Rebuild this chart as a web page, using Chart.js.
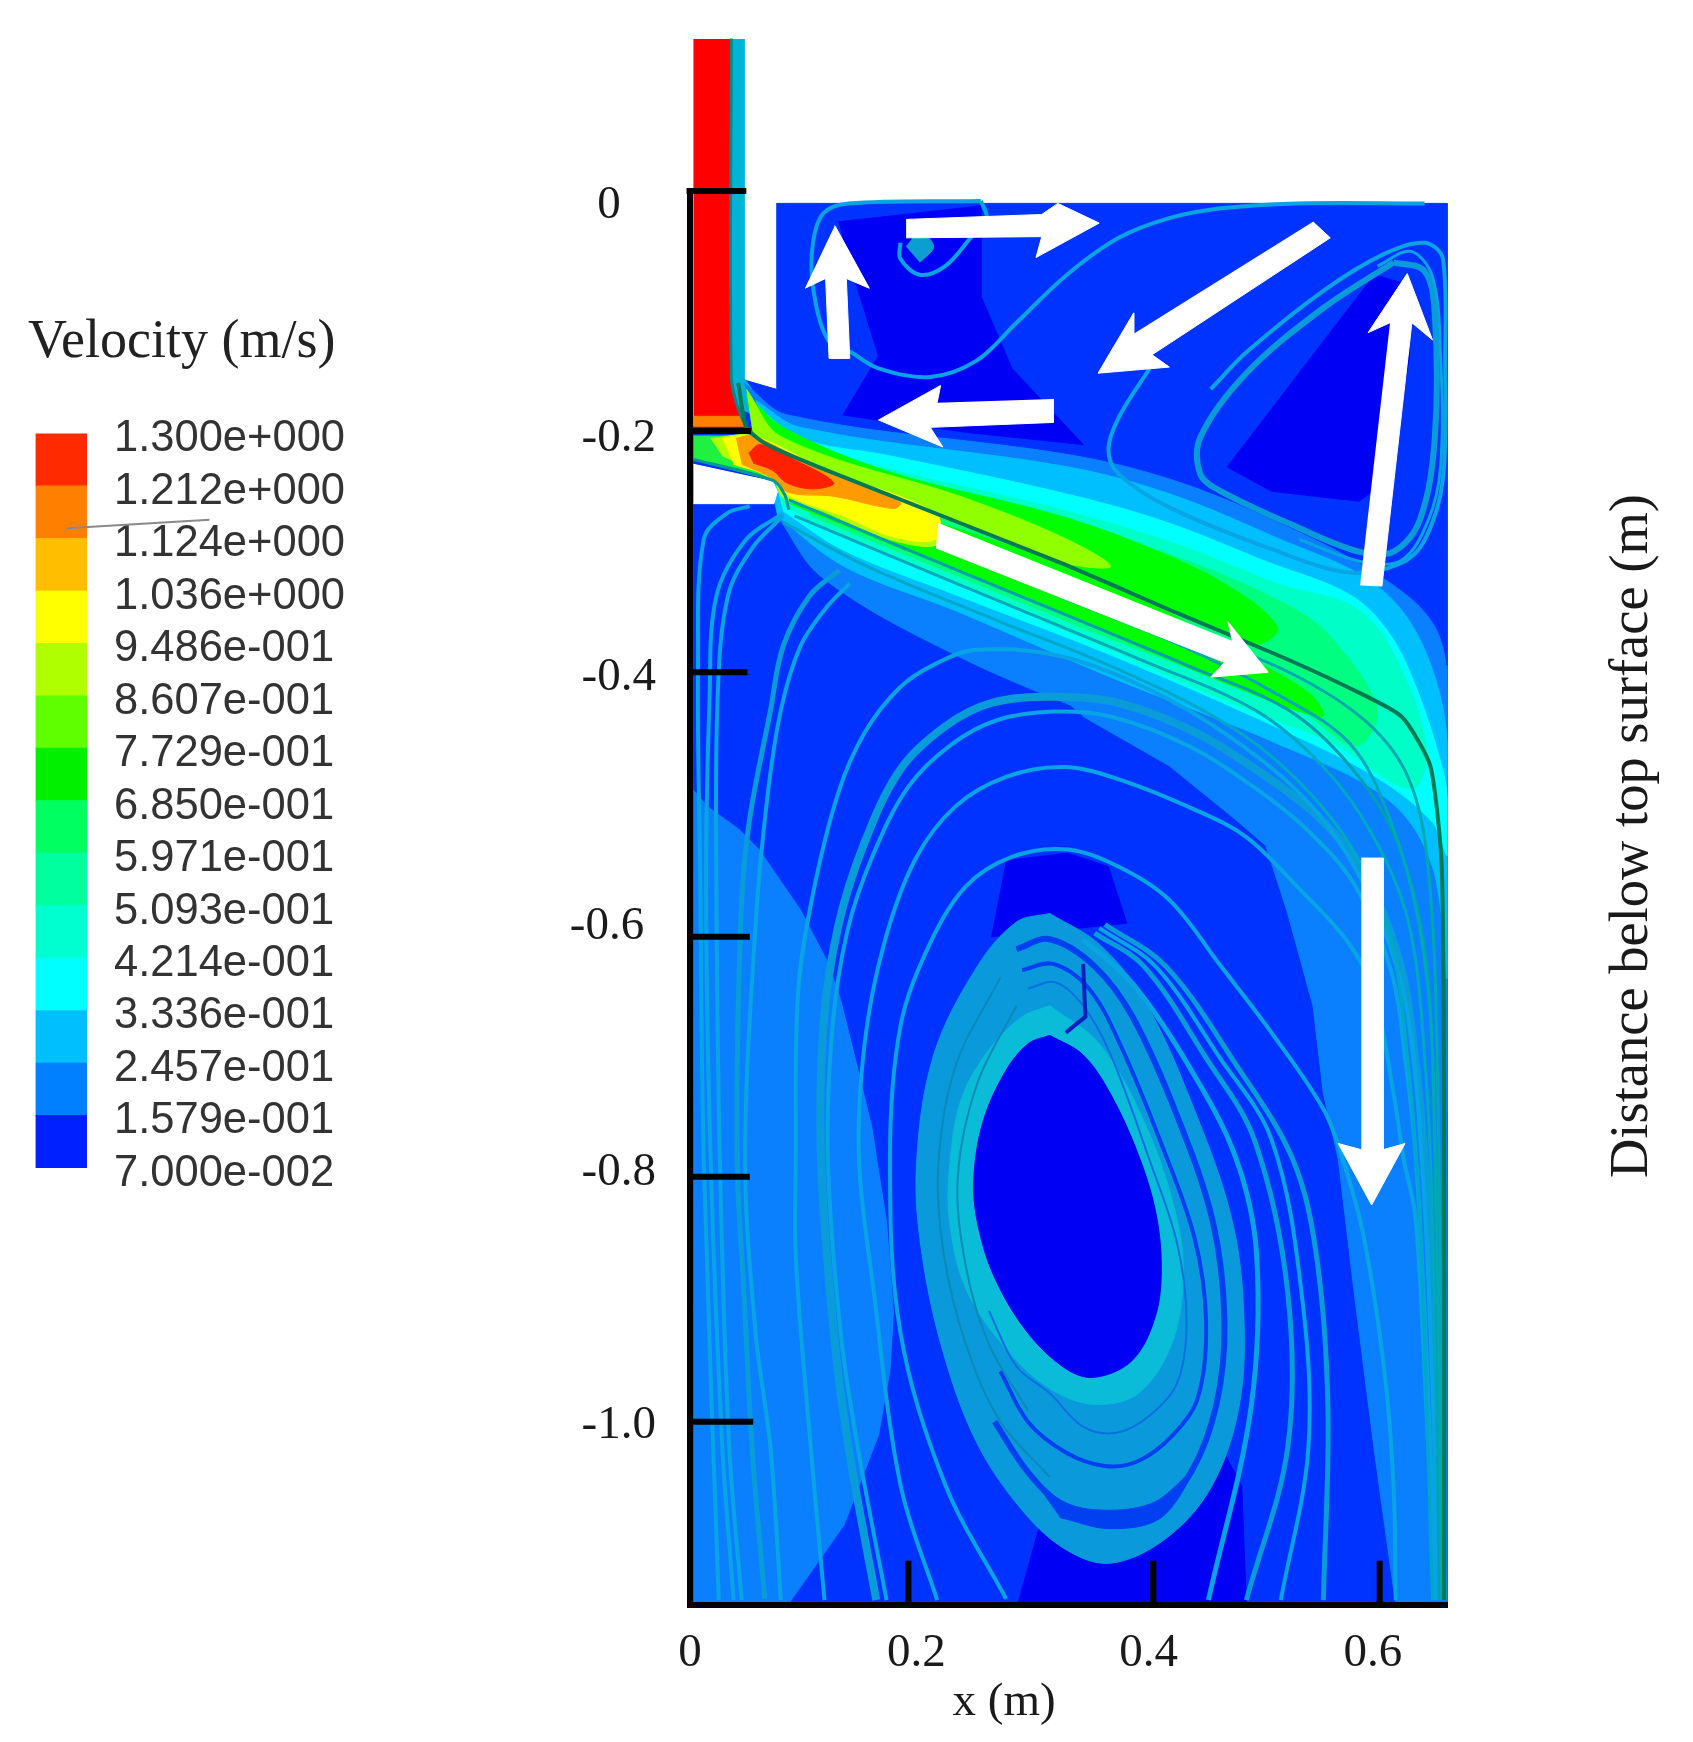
<!DOCTYPE html>
<html>
<head>
<meta charset="utf-8">
<title>Velocity field</title>
<script src="https://cdn.jsdelivr.net/npm/chart.js@4/dist/chart.umd.min.js"></script>
<style>
html,body{margin:0;padding:0;background:#fff;}
canvas{position:absolute;display:block;}
</style>
</head>
<body>
<canvas id="legendBar" width="400" height="911" style="left:28px;top:310px"></canvas>
<canvas id="field" width="1693" height="1742" style="left:0;top:0"></canvas>
<script>
// legend
var velocityLevels = [0.07,0.1579,0.2457,0.3336,0.4214,0.5093,0.5971,0.685,0.7729,0.8607,0.9486,1.036,1.124,1.212,1.3];
var velocityLabels = ["7.000e-002","1.579e-001","2.457e-001","3.336e-001","4.214e-001","5.093e-001","5.971e-001","6.850e-001","7.729e-001","8.607e-001","9.486e-001","1.036e+000","1.124e+000","1.212e+000","1.300e+000"];
var bandColors = ["#0020ff","#0080ff","#00bfff","#00ffff","#00ffd0","#00ff9f","#00ff60","#00f000","#60ff00","#b0ff00","#ffff00","#ffbf00","#ff8000","#ff2a00"];

// axes, metres
var xLabelPos = [0,0.197,0.399,0.594];
var xLabels = ["0","0.2","0.4","0.6"];
var xTickMarks = [0.19,0.403,0.6];
var yLabelPos = [-0.012,-0.201,-0.395,-0.598,-0.798,-1.003];
var yLabels = ["0","-0.2","-0.4","-0.6","-0.8","-1.0"];
var yLabelPad = [3,0,0,1,0,0];
var yTickMarks = [0,-0.195,-0.391,-0.606,-0.801,-1.0];
var yTickEnds = [0.049,0.053,0.05,0.052,0.052,0.055];

// contour regions [x,y] in metres
var moldBase = [[.075,-.010],[.659,-.010],[.659,-1.149],[.003,-1.149],[.003,-.191],[.042,-.181],[.045,-.153],[.075,-.161]];
var leftAzure = [[.003,-.487],[.015,-.500],[.043,-.519],[.060,-.535],[.096,-.584],[.120,-.627],[.131,-.657],[.144,-.706],[.158,-.760],[.171,-.838],[.177,-.910],[.174,-.958],[.164,-1.011],[.134,-1.084],[.107,-1.120],[.085,-1.149],[.003,-1.149]];
var rightAzure = [[.342,-.427],[.417,-.467],[.475,-.511],[.501,-.532],[.520,-.587],[.542,-.662],[.551,-.733],[.564,-.787],[.578,-.896],[.595,-1.021],[.614,-1.149],[.659,-1.149],[.659,-.386],[.463,-.350],[.270,-.368]];
var eyeCap = [[.275,-.544],[.328,-.538],[.364,-.549],[.380,-.595],[.262,-.606]];
var bottomCore = [[.285,-1.149],[.302,-1.092],[.327,-1.018],[.462,-1.021],[.480,-1.052],[.484,-1.149]];
var topCoreLeft = [[.129,-.025],[.253,-.012],[.253,-.085],[.280,-.144],[.342,-.206],[.240,-.196],[.133,-.182],[.164,-.134],[.142,-.068]];
var topCoreRight = [[.467,-.224],[.506,-.244],[.582,-.252],[.608,-.234],[.626,-.134],[.621,-.075],[.595,-.068]];

var nozzleEdge = [[.036,.124],[.047,.124],[.047,-.152],[.061,-.171],[.055,-.181],[.042,-.177],[.036,-.152]];
var jetAzure = [[.047,-.156],[.085,-.182],[.328,-.214],[.417,-.234],[.506,-.267],[.595,-.310],[.646,-.351],[.659,-.404],[.659,-.747],[.627,-.567],[.559,-.504],[.366,-.431],[.231,-.377],[.115,-.314],[.076,-.264]];
var jetSky = [[.057,-.170],[.096,-.192],[.328,-.224],[.417,-.246],[.506,-.280],[.595,-.319],[.637,-.368],[.659,-.449],[.659,-.639],[.646,-.549],[.608,-.495],[.511,-.449],[.366,-.395],[.231,-.341],[.134,-.305],[.076,-.264]];
var jetCyan = [[.057,-.174],[.096,-.201],[.173,-.215],[.327,-.246],[.414,-.269],[.501,-.301],[.574,-.328],[.608,-.359],[.632,-.404],[.654,-.467],[.659,-.495],[.659,-.540],[.646,-.513],[.598,-.477],[.511,-.436],[.366,-.377],[.231,-.328],[.134,-.292],[.081,-.260]];
var jetTeal = [[.057,-.179],[.096,-.206],[.327,-.260],[.424,-.287],[.511,-.319],[.583,-.341],[.622,-.395],[.641,-.458],[.627,-.486],[.559,-.449],[.463,-.413],[.366,-.373],[.231,-.319],[.115,-.273],[.081,-.255]];
var jetSpring = [[.053,-.181],[.096,-.210],[.327,-.269],[.434,-.301],[.521,-.337],[.559,-.364],[.598,-.422],[.579,-.451],[.530,-.422],[.366,-.364],[.231,-.312],[.105,-.264]];
var jetGreenUpper = [[.049,-.165],[.081,-.192],[.173,-.228],[.322,-.264],[.405,-.292],[.472,-.323],[.511,-.355],[.492,-.368],[.424,-.341],[.322,-.302],[.119,-.227],[.055,-.199]];
var jetLimeStrip = [[.049,-.161],[.080,-.200],[.241,-.250],[.328,-.283],[.366,-.305],[.322,-.301],[.119,-.227],[.055,-.199]];
var jetGreenLower = [[.086,-.254],[.119,-.246],[.322,-.302],[.405,-.337],[.482,-.377],[.540,-.409],[.550,-.427],[.482,-.406],[.322,-.343]];
var portGreen = [[.003,-.199],[.055,-.199],[.072,-.235],[.003,-.218]];
var portLime = [[.018,-.201],[.055,-.199],[.119,-.227],[.212,-.262],[.216,-.287],[.173,-.283],[.115,-.260],[.081,-.249],[.072,-.235],[.028,-.215]];
var portYellow = [[.028,-.201],[.055,-.199],[.119,-.227],[.214,-.262],[.214,-.283],[.177,-.281],[.133,-.264],[.087,-.248],[.072,-.233],[.038,-.222]];
var portOrange = [[.040,-.201],[.055,-.199],[.115,-.227],[.183,-.253],[.177,-.258],[.125,-.248],[.086,-.245],[.071,-.233],[.045,-.222]];
var portRed = [[.051,-.213],[.061,-.206],[.090,-.218],[.125,-.237],[.107,-.242],[.084,-.237],[.072,-.227],[.055,-.221]];
var inletRed = [[.003,.124],[.036,.124],[.036,-.152],[.041,-.174],[.049,-.191],[.003,-.191]];
var inletOrange = [[.003,-.183],[.046,-.183],[.049,-.191],[.003,-.191]];
var portWall = [[.003,-.222],[.072,-.236],[.076,-.244],[.073,-.254],[.003,-.254]];

// vortex around the eye
var ringOuter = [[.313,-.587],[.356,-.612],[.395,-.657],[.439,-.747],[.472,-.838],[.482,-.919],[.477,-.991],[.453,-1.054],[.414,-1.095],[.366,-1.115],[.327,-1.104],[.289,-1.072],[.250,-1.018],[.221,-.946],[.202,-.865],[.197,-.792],[.212,-.702],[.250,-.630],[.284,-.594],[.313,-.587]];
var ringInner = [[.313,-.662],[.356,-.693],[.395,-.756],[.422,-.829],[.429,-.883],[.419,-.937],[.390,-.977],[.352,-.986],[.313,-.973],[.275,-.941],[.240,-.892],[.226,-.838],[.226,-.792],[.236,-.738],[.260,-.698],[.289,-.671],[.313,-.662]];
var eyeCore = [[.313,-.686],[.342,-.702],[.366,-.734],[.390,-.783],[.405,-.829],[.410,-.874],[.405,-.914],[.385,-.950],[.352,-.964],[.327,-.957],[.294,-.928],[.265,-.883],[.250,-.838],[.247,-.801],[.255,-.756],[.274,-.716],[.294,-.693],[.313,-.686]];
var ringBottomGap = [[.294,-1.041],[.327,-1.066],[.366,-1.072],[.405,-1.065],[.436,-1.041],[.410,-1.078],[.366,-1.087],[.322,-1.078]];
var ringGap1 = [[.284,-.616],[.313,-.608],[.352,-.630],[.385,-.671],[.424,-.752],[.455,-.838],[.465,-.919],[.458,-.986],[.436,-1.041],[.405,-1.072],[.366,-1.079],[.327,-1.070],[.294,-1.041],[.265,-1.000]];
var ringGap2 = [[.289,-.633],[.316,-.628],[.347,-.648],[.374,-.693],[.410,-.774],[.439,-.851],[.449,-.919],[.442,-.980],[.420,-1.011],[.390,-1.032],[.361,-1.036],[.327,-1.025],[.294,-1.000],[.270,-.959]];
var ringGap3 = [[.294,-.648],[.318,-.643],[.342,-.662],[.366,-.702],[.400,-.788],[.424,-.856],[.432,-.919],[.424,-.968],[.400,-.995],[.371,-1.009],[.342,-1.004],[.313,-.977],[.284,-.955],[.260,-.910]];
var ringStreak1 = [[.270,-.639],[.231,-.711],[.216,-.792],[.221,-.865],[.240,-.937],[.270,-1.000],[.313,-1.045]];
var ringStreak2 = [[.284,-.662],[.250,-.725],[.233,-.801],[.240,-.874],[.260,-.937],[.294,-.991]];
var ringJag = [[.342,-.628],[.344,-.671],[.332,-.680],[.327,-.684]];

// streamlines
var arch1 = [[.275,-1.144],[.222,-1.051],[.183,-.927],[.174,-.786],[.183,-.679],[.209,-.611],[.240,-.565],[.280,-.541],[.328,-.535],[.373,-.549],[.417,-.576],[.462,-.630],[.506,-.684],[.551,-.746],[.568,-.787],[.586,-.849],[.604,-.958],[.612,-1.051],[.614,-1.145]];
var arch2 = [[.215,-1.145],[.183,-1.051],[.160,-.895],[.147,-.787],[.152,-.692],[.169,-.611],[.196,-.543],[.231,-.500],[.275,-.476],[.325,-.468],[.373,-.478],[.440,-.503],[.484,-.525],[.528,-.565],[.573,-.611],[.595,-.652],[.612,-.733],[.621,-.787],[.631,-.833],[.639,-.958],[.648,-1.145]];
var arch3 = [[.162,-1.145],[.138,-1.021],[.125,-.927],[.114,-.787],[.116,-.679],[.129,-.597],[.152,-.529],[.183,-.470],[.222,-.435],[.262,-.416],[.316,-.411],[.373,-.416],[.440,-.440],[.497,-.473],[.546,-.508],[.586,-.554],[.617,-.625],[.631,-.706],[.639,-.787],[.651,-.973],[.655,-1.145]];
var arch3b = [[.171,-1.145],[.146,-1.021],[.131,-.927],[.120,-.787],[.124,-.679],[.137,-.601],[.159,-.540],[.190,-.484],[.227,-.450],[.267,-.430],[.316,-.423],[.366,-.427],[.434,-.451],[.490,-.484],[.538,-.520],[.579,-.565],[.610,-.634],[.623,-.711],[.632,-.792],[.642,-.973],[.649,-1.145]];
var arch4 = [[.117,-1.145],[.102,-.988],[.092,-.865],[.092,-.787],[.094,-.652],[.107,-.571],[.129,-.489],[.152,-.440],[.183,-.403],[.214,-.384],[.248,-.373],[.318,-.377],[.395,-.403],[.472,-.445],[.540,-.499],[.588,-.567],[.622,-.657],[.637,-.792],[.646,-.973],[.651,-1.145]];
var riser1 = [[.130,-.308],[.104,-.329],[.081,-.370],[.070,-.422],[.051,-.516],[.044,-.597],[.041,-.787],[.047,-.895],[.054,-1.021],[.065,-1.144]];
var riser2 = [[.139,-.319],[.119,-.338],[.096,-.370],[.079,-.422],[.067,-.495],[.057,-.597],[.048,-.787],[.057,-.927],[.070,-1.021],[.079,-1.145]];
var wall1 = [[.052,-.256],[.032,-.262],[.012,-.283],[.007,-.384],[.009,-.567],[.012,-.787],[.025,-1.145]];
var wall2 = [[.081,-.262],[.049,-.283],[.023,-.329],[.017,-.413],[.014,-.567],[.018,-.787],[.028,-1.018],[.038,-1.145]];
var wall3 = [[.081,-.264],[.055,-.289],[.033,-.329],[.024,-.413],[.023,-.567],[.026,-.787],[.034,-1.018],[.045,-1.145]];
var spiral1 = [[.451,-1.145],[.488,-.989],[.493,-.865],[.475,-.786],[.434,-.711],[.385,-.644],[.342,-.608]];
var spiral2 = [[.484,-1.145],[.520,-1.021],[.520,-.895],[.491,-.771],[.448,-.703],[.395,-.630],[.352,-.603]];
var spiral3 = [[.514,-1.145],[.538,-1.021],[.532,-.895],[.506,-.771],[.460,-.703],[.405,-.630],[.356,-.599]];
var spiral4 = [[.551,-1.145],[.555,-.989],[.545,-.865],[.524,-.786],[.473,-.707],[.414,-.630],[.361,-.596]];
var jetLine1 = [[.081,-.269],[.154,-.305],[.270,-.350],[.366,-.386],[.463,-.431],[.521,-.472],[.574,-.531],[.608,-.603],[.625,-.711],[.635,-.838],[.646,-1.145]];
var jetLine2 = [[.091,-.264],[.173,-.296],[.289,-.341],[.395,-.382],[.492,-.422],[.550,-.467],[.593,-.522],[.625,-.594],[.639,-.702],[.646,-.838],[.652,-1.145]];
var jetLine3 = [[.086,-.251],[.173,-.285],[.318,-.341],[.434,-.386],[.521,-.422],[.574,-.467],[.612,-.522],[.637,-.603],[.646,-.702],[.652,-1.145]];
var jetLine4 = [[.318,-.328],[.424,-.368],[.511,-.409],[.574,-.449],[.608,-.508],[.634,-.594],[.646,-.702],[.654,-1.145]];
var jetLine5 = [[.424,-.355],[.521,-.391],[.588,-.431],[.625,-.477],[.642,-.549],[.650,-.702],[.655,-1.145]];
var jetDarkLine = [[.042,-.156],[.049,-.192],[.067,-.206],[.119,-.227],[.322,-.302],[.424,-.343],[.511,-.377],[.574,-.404],[.619,-.427],[.644,-.467],[.654,-.549],[.656,-.747],[.656,-1.145]];
var portEdge = [[.003,-.218],[.072,-.235],[.082,-.246],[.086,-.259]];
var nozzleLine = [[.036,.124],[.036,-.152],[.042,-.177],[.049,-.192]];
var topLoop = [[.253,-.008],[.138,-.010],[.116,-.018],[.107,-.042],[.107,-.078],[.120,-.121],[.140,-.131],[.164,-.144],[.209,-.151],[.249,-.138],[.284,-.107],[.328,-.068],[.373,-.038],[.417,-.022],[.462,-.014],[.528,-.010],[.639,-.010]];
var smallLoop = [[.183,-.042],[.183,-.055],[.200,-.068],[.222,-.061],[.244,-.038],[.258,-.022],[.253,-.008]];
var smallBlob = [[.188,-.045],[.200,-.034],[.212,-.045],[.200,-.058]];
var rightLoopBold = [[.612,-.058],[.551,-.095],[.484,-.148],[.444,-.200],[.444,-.230],[.462,-.244],[.528,-.273],[.582,-.293],[.612,-.293],[.635,-.267],[.648,-.200],[.648,-.101],[.639,-.065],[.612,-.058]];
var rightLoopOuter = [[.400,-.144],[.373,-.184],[.364,-.210],[.373,-.230],[.417,-.257],[.506,-.291],[.573,-.310],[.617,-.303],[.639,-.284],[.655,-.234],[.657,-.134],[.655,-.055],[.639,-.042],[.604,-.051],[.551,-.081],[.484,-.131],[.453,-.161]];
var rightLoopMid = [[.598,-.061],[.627,-.049],[.646,-.070],[.653,-.134],[.653,-.224],[.642,-.268],[.619,-.300],[.583,-.301],[.530,-.283]];

// white flow arrows
var arrowRiseLeft = [[.126,-.028],[.156,-.079],[.136,-.071],[.139,-.136],[.121,-.136],[.118,-.071],[.100,-.079]];
var arrowTop = [[.188,-.023],[.306,-.019],[.320,-.010],[.356,-.026],[.301,-.054],[.306,-.037],[.188,-.038]];
var arrowBack = [[.542,-.025],[.557,-.038],[.402,-.133],[.417,-.143],[.355,-.148],[.386,-.099],[.386,-.116]];
var arrowToNozzle = [[.316,-.169],[.316,-.188],[.209,-.192],[.220,-.208],[.164,-.186],[.218,-.158],[.215,-.172]];
var arrowRiseRight = [[.583,-.320],[.602,-.321],[.628,-.107],[.646,-.121],[.624,-.067],[.590,-.115],[.609,-.107]];
var arrowJet = [[.216,-.270],[.472,-.366],[.468,-.350],[.503,-.391],[.453,-.395],[.465,-.383],[.214,-.290]];
var arrowDown = [[.584,-.542],[.603,-.542],[.603,-.779],[.622,-.774],[.593,-.824],[.564,-.774],[.584,-.779]];

// stray mark over the colour bar
var strayMark = [[-.542,-.274],[-.418,-.267]];

function toXY(pts){
    return pts.map(function(p){ return {x:p[0],y:p[1]}; });
}
function region(pts,color){
    return {data:toXY(pts),showLine:true,fill:'shape',backgroundColor:color,borderColor:color,borderWidth:1,pointRadius:0,tension:0};
}
function soft(pts,color){
    var d = region(pts,color);
    d.tension = 0.35;
    return d;
}
function stroke(pts,color,width,tension){
    return {data:toXY(pts),showLine:true,fill:false,borderColor:color,borderWidth:width,pointRadius:0,tension:tension===undefined?0.35:tension,clip:false};
}

var STREAM = "#08a4e4";
var BAND = "#0a9cd8";
var painted = [
    region(moldBase,"#0033ff"),
    region(leftAzure,"#0a80ff"),
    region(rightAzure,"#0a80ff"),
    region(eyeCap,"#0000f5"),
    region(bottomCore,"#0000f5"),
    region(topCoreLeft,"#0000f5"),
    region(topCoreRight,"#0000f5"),
    region(nozzleEdge,"#00b4d8"),
    soft(jetAzure,"#0a80ff"),
    soft(jetSky,"#00bfff"),
    soft(jetCyan,"#00ffff"),
    soft(jetTeal,"#00ffc8"),
    soft(jetSpring,"#00ff80"),
    soft(jetGreenUpper,"#00ff00"),
    soft(jetLimeStrip,"#90ff00"),
    soft(jetGreenLower,"#00ff00"),
    region(portGreen,"#20f040"),
    soft(portLime,"#b0ff00"),
    soft(portYellow,"#ffff00"),
    soft(portOrange,"#ff9a00"),
    soft(portRed,"#ff2000"),
    region(inletRed,"#ff0000"),
    region(inletOrange,"#ff8000"),
    region(portWall,"#ffffff"),
    stroke(portEdge,"#009a90",3),
    stroke(nozzleLine,"#008a90",3),
    stroke(arch1,STREAM,4),
    stroke(arch2,STREAM,4),
    stroke(arch3,BAND,8),
    stroke(arch3b,STREAM,4),
    stroke(arch4,STREAM,4),
    stroke(riser1,BAND,5),
    stroke(riser2,STREAM,4),
    stroke(wall1,STREAM,4),
    stroke(wall2,STREAM,4),
    stroke(wall3,STREAM,4),
    soft(ringOuter,"#0a9adc"),
    soft(ringInner,"#0abcd8"),
    soft(ringBottomGap,"#0040f0"),
    stroke(ringGap1,"#0040f0",6),
    stroke(ringGap2,"#0040f0",4),
    stroke(ringGap3,"#0a70e0",2),
    stroke(ringStreak1,"#0a8ab8",2),
    stroke(ringStreak2,"#0a8ab8",2),
    stroke(ringJag,"#0020c0",4,0),
    soft(eyeCore,"#0000f5"),
    stroke(spiral1,STREAM,5),
    stroke(spiral2,BAND,5),
    stroke(spiral3,STREAM,4),
    stroke(spiral4,BAND,5),
    stroke(jetLine1,"#00a8c8",3),
    stroke(jetLine2,"#00a8c0",3),
    stroke(jetLine3,"#00a0b0",3),
    stroke(jetLine4,"#00a8b8",3),
    stroke(jetLine5,"#00a8b0",3),
    stroke(jetDarkLine,"#007a55",4,0.2),
    stroke(topLoop,STREAM,4),
    stroke(smallLoop,STREAM,4),
    soft(smallBlob,"#0a9fd0"),
    stroke(rightLoopBold,BAND,6),
    stroke(rightLoopOuter,STREAM,4),
    stroke(rightLoopMid,STREAM,3),
    region(arrowRiseLeft,"#ffffff"),
    region(arrowTop,"#ffffff"),
    region(arrowBack,"#ffffff"),
    region(arrowToNozzle,"#ffffff"),
    region(arrowRiseRight,"#ffffff"),
    region(arrowJet,"#ffffff"),
    region(arrowDown,"#ffffff"),
    stroke(strayMark,"#8a8a8a",2,0),
    stroke([[0,0],[0,-1.149]],"#000",6,0)
];
yTickMarks.forEach(function(v,i){
    painted.push(stroke([[i==0?-0.003:0,v],[yTickEnds[i],v]],"#000",6,0));
});
xTickMarks.forEach(function(v){
    painted.push(stroke([[v,-1.149],[v,-1.113]],"#000",6,0));
});

// first dataset ends up on top
painted.reverse();

var SERIF = "'Liberation Serif'";

var yTitlePlugin = {
    id:'yTitle',
    afterDraw:function(chart){
        var c = chart.ctx;
        c.save();
        c.translate(1633,836);
        c.rotate(-Math.PI/2);
        c.font = "54.5px "+SERIF;
        c.fillStyle = "#1a1a1a";
        c.textAlign = "center";
        c.textBaseline = "middle";
        c.fillText("Distance below top surface (m)",0,0);
        c.restore();
    }
};

new Chart(document.getElementById("field"),{
    type:'scatter',
    data:{datasets:painted},
    plugins:[yTitlePlugin],
    options:{
        responsive:false,
        animation:false,
        events:[],
        layout:{padding:{left:0,right:245.5,top:39,bottom:0}},
        plugins:{legend:{display:false},tooltip:{enabled:false}},
        scales:{
            x:{
                type:'linear',min:0,max:0.659,
                grid:{display:false,drawTicks:false},
                border:{color:"#000",width:6,z:1},
                afterFit:function(s){ s.height=137; },
                afterBuildTicks:function(s){ s.ticks = xLabelPos.map(function(v){ return {value:v}; }); },
                ticks:{
                    autoSkip:false,maxRotation:0,padding:20,color:"#1a1a1a",
                    font:{family:SERIF,size:47},
                    callback:function(v,i){ return xLabels[i]; }
                },
                title:{
                    display:true,text:"x (m)"+" ".repeat(11),color:"#1a1a1a",
                    font:{family:SERIF,size:47},padding:{top:0,bottom:11}
                }
            },
            y:{
                type:'linear',min:-1.149,max:0.1236,
                grid:{drawOnChartArea:false,tickLength:34,tickColor:'transparent'},
                border:{display:false},
                afterFit:function(s){ s.width=690; },
                afterBuildTicks:function(s){ s.ticks = yLabelPos.map(function(v){ return {value:v}; }); },
                ticks:{
                    autoSkip:false,padding:0,color:"#1a1a1a",
                    font:{family:SERIF,size:47},
                    callback:function(v,i){ return yLabels[i]+" ".repeat(yLabelPad[i]); }
                }
            }
        }
    }
});

new Chart(document.getElementById("legendBar"),{
    type:'bar',
    data:{
        labels:["Velocity"],
        datasets:bandColors.map(function(c,i){
            return {data:[[velocityLevels[i],velocityLevels[i+1]]],yAxisID:'y',backgroundColor:c,grouped:false,barPercentage:1,categoryPercentage:1,borderWidth:0};
        })
    },
    options:{
        responsive:false,
        animation:false,
        events:[],
        layout:{padding:{left:0,right:0,top:0,bottom:11}},
        plugins:{
            legend:{display:false},
            tooltip:{enabled:false},
            title:{
                display:true,text:"Velocity (m/s)",align:'start',color:"#222",
                font:{family:SERIF,size:54,weight:'normal'},padding:{top:0,bottom:58.6}
            }
        },
        scales:{
            x:{display:false},
            pad:{
                position:'left',display:true,
                grid:{display:false},border:{display:false},ticks:{display:false},
                afterFit:function(s){ s.width=7.5; }
            },
            y:{
                position:'right',min:0.07,max:1.3,
                grid:{display:false,drawTicks:false},
                border:{display:false},
                afterFit:function(s){ s.width=341; },
                afterBuildTicks:function(s){ s.ticks = velocityLevels.map(function(v){ return {value:v}; }); },
                ticks:{
                    autoSkip:false,padding:27,labelOffset:6,color:"#333",
                    font:{family:"'Liberation Sans'",size:43.5},
                    callback:function(v,i){ return velocityLabels[i]; }
                }
            }
        }
    }
});
</script>
</body>
</html>
